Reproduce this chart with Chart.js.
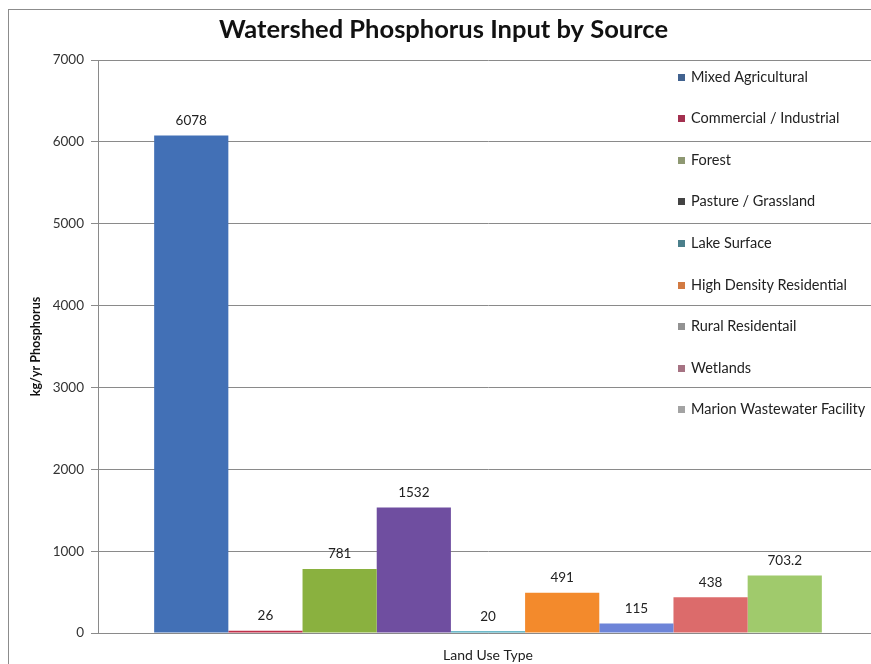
<!DOCTYPE html>
<html>
<head>
<meta charset="utf-8">
<script src="https://cdn.jsdelivr.net/npm/chart.js@4/dist/chart.umd.min.js"></script>
<style>
  html, body { margin: 0; padding: 0; background: #fff; overflow: hidden; width: 871px; height: 664px; }
  #frame { position: absolute; left: 8px; top: 9px; width: 880px; height: 670px; border: 1px solid #8c8c8c; background: #fff; }
  #c { display: block; }
</style>
</head>
<body>
<div id="frame"><canvas id="c" width="872" height="660"></canvas></div>
<script>
// Phosphorus load (kg/yr) by land use source
const sources = [
  'Mixed Agricultural',
  'Commercial / Industrial',
  'Forest',
  'Pasture / Grassland',
  'Lake Surface',
  'High Density Residential',
  'Rural Residentail',
  'Wetlands',
  'Marion Wastewater Facility'
];
const loads = [6078, 26, 781, 1532, 20, 491, 115, 438, 703.2];
const categories = [''];
const yTicks = [0, 1000, 2000, 3000, 4000, 5000, 6000, 7000];

// Bar fills and legend swatches
const barColors = ['#4270b6', '#c0304a', '#8ab13f', '#6f4ea0', '#3ea3b8', '#f38a2c', '#6d84d8', '#dc6b6b', '#a0ca6c'];
const swatchColors = ['#41628f', '#a3304f', '#8e9872', '#434343', '#4b7f8b', '#d27a42', '#929292', '#a67383', '#a3a3a3'];

const FONT = 'Lato, "Open Sans", "Liberation Sans", sans-serif';

const datasets = sources.map((name, i) => ({
  label: name,
  data: [loads[i]],
  backgroundColor: barColors[i],
  borderWidth: 0,
  categoryPercentage: 0.856,
  barPercentage: 1.0
}));

// Value labels above each bar
const valueLabels = {
  id: 'valueLabels',
  afterDatasetsDraw(chart) {
    const ctx = chart.ctx;
    ctx.save();
    ctx.font = '13.5px ' + FONT;
    ctx.fillStyle = '#222';
    ctx.textAlign = 'center';
    ctx.textBaseline = 'middle';
    chart.data.datasets.forEach((ds, i) => {
      const bar = chart.getDatasetMeta(i).data[0];
      ctx.fillText(String(ds.data[0]), bar.x, bar.y - 15);
    });
    ctx.restore();
  }
};

// Vertical legend inside the plot, on the right
const sideLegend = {
  id: 'sideLegend',
  afterDraw(chart) {
    const ctx = chart.ctx;
    const area = chart.chartArea;
    const x0 = area.left + 580;
    ctx.save();
    ctx.font = '14.5px ' + FONT;
    ctx.textAlign = 'left';
    ctx.textBaseline = 'middle';
    chart.data.datasets.forEach((ds, i) => {
      const y = area.top + 17 + i * 41.6;
      ctx.fillStyle = swatchColors[i];
      ctx.fillRect(x0, Math.round(y - 3.5), 7, 7);
      ctx.fillStyle = '#222';
      ctx.fillText(ds.label, x0 + 13, y);
    });
    ctx.restore();
  }
};

new Chart(document.getElementById('c'), {
  type: 'bar',
  data: { labels: categories, datasets },
  plugins: [valueLabels, sideLegend],
  options: {
    responsive: false,
    animation: false,
    layout: { padding: { left: 0, right: 3, top: 0, bottom: 0 } },
    plugins: {
      legend: { display: false },
      tooltip: { enabled: false },
      title: {
        display: true,
        text: 'Watershed Phosphorus Input by Source',
        color: '#111',
        font: { family: FONT, size: 25.5, weight: 'bold' },
        padding: { top: 4.7, bottom: 14.7 }
      }
    },
    scales: {
      x: {
        grid: { display: false },
        border: { display: true, color: '#8a8a8a', width: 1 },
        ticks: { display: false },
        title: {
          display: true,
          text: 'Land Use Type',
          color: '#222',
          font: { family: FONT, size: 14 },
          padding: { top: 0, bottom: 6.6 }
        },
        afterFit(s) { s.height = 37; }
      },
      y: {
        min: 0,
        max: 7000,
        afterBuildTicks(s) { s.ticks = yTicks.map(v => ({ value: v })); },
        ticks: {
          color: '#333',
          font: { family: FONT, size: 13.5 },
          padding: 7,
          callback: v => String(v)
        },
        grid: { color: '#8a8a8a', lineWidth: 1, tickLength: 7 },
        border: { display: true, color: '#8a8a8a', width: 1 },
        title: {
          display: true,
          text: 'kg/yr Phosphorus',
          color: '#111',
          font: { family: FONT, size: 12.5, weight: 'bold' },
          padding: { top: 19.5, bottom: 0 }
        },
        afterFit(s) { s.width = 89; }
      }
    }
  }
});
</script>
</body>
</html>
